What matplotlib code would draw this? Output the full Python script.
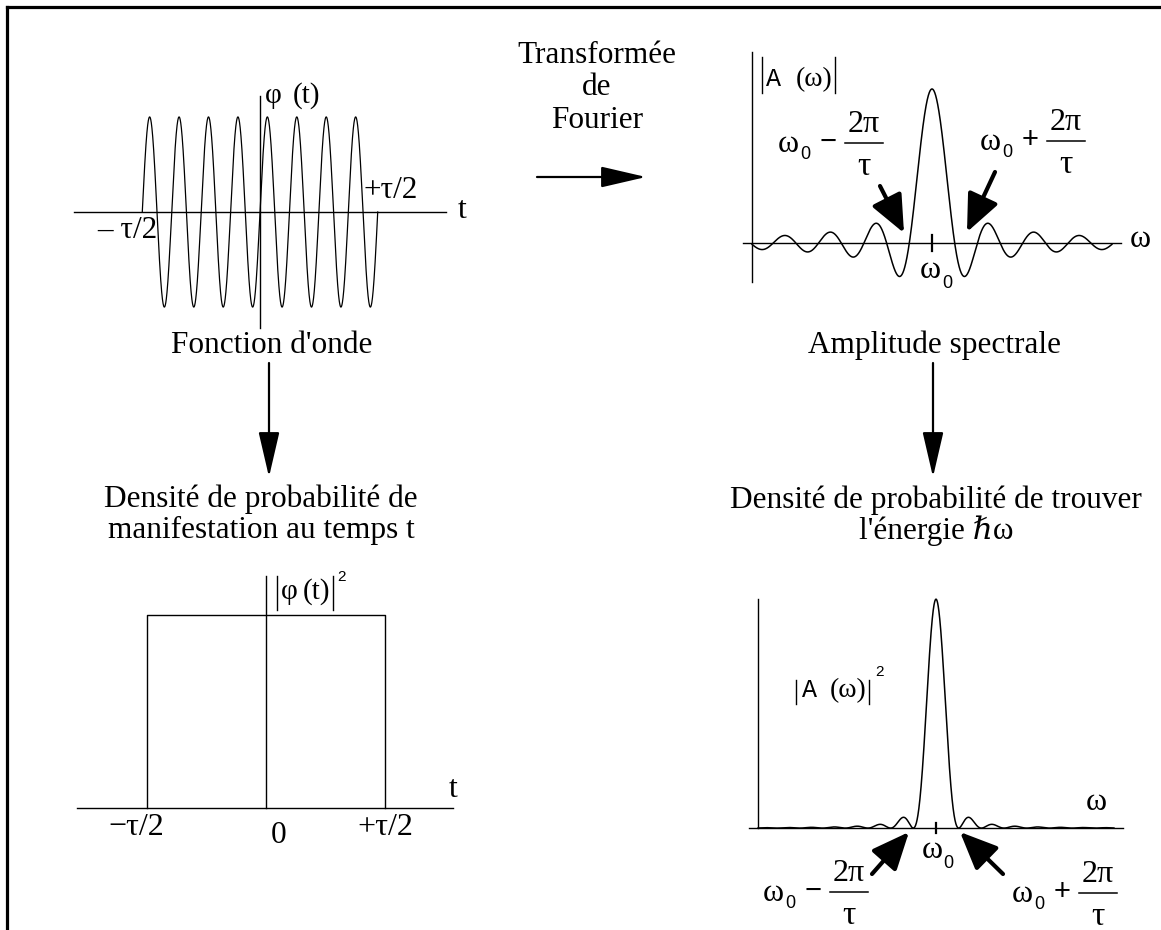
import numpy as np
import matplotlib
matplotlib.use("Agg")
import matplotlib.pyplot as plt

# Paquet d'ondes : fonction d'onde, amplitude spectrale et densités

W, H = 1161, 930
SERIF = ["Liberation Serif", "DejaVu Serif"]
SANS = ["Liberation Sans", "DejaVu Sans"]
MONO = ["Liberation Mono", "DejaVu Sans Mono"]

# --- données ---
n_osc = 8              # oscillations dans le paquet (entre -tau/2 et +tau/2)
half_tau = 1.0         # tau/2
wave_amp = 1.0
t_lim = (-1.58, 1.58)  # étendue de l'axe t
phi_lim = (-1.22, 1.22)

rect_lim_x = (-1.59, 1.57)
rect_lim_y = (0.0, 1.2)
rect_height = 1.0

u_curve = 7.93         # (w - w0) en unités de 2pi/tau : bout de la courbe
u_axis = 8.33
amp_lim = (-0.253, 1.24)
u_curve2 = 7.84
u_axis2 = 8.24
dens_lim = (-0.052, 1.04)

fig = plt.figure(figsize=(W / 100, H / 100), dpi=100)
ov = fig.add_axes([0, 0, 1, 1])
ov.set_xlim(0, W)
ov.set_ylim(H, 0)
ov.axis("off")

BIG = 22.5


def panel(left, top, right, bottom, xlim, ylim):
    a = fig.add_axes([left / W, 1 - bottom / H, (right - left) / W, (bottom - top) / H])
    a.set_xlim(*xlim)
    a.set_ylim(*ylim)
    a.axis("off")
    return a


def txt(x, y, s, size=BIG, fam=SERIF, ha="center", va="baseline"):
    ov.text(x, y, s, fontsize=size, family=fam, ha=ha, va=va, color="k")


def bars(x1, x2, y1, y2):
    ov.plot([x1, x1], [y1, y2], color="k", lw=1.0)
    ov.plot([x2, x2], [y1, y2], color="k", lw=1.0)


def freq_label(x, y, sign):
    # w0 -/+ 2pi/tau
    txt(x, y + 9, "ω", 23)
    txt(x + 17, y + 16, "0", 13, SANS)
    txt(x + 40, y + 7, sign, 21, SANS)
    ov.plot([x + 57, x + 95], [y, y], color="k", lw=1.1)
    txt(x + 76, y - 11, "2π", 23)
    txt(x + 76, y + 32, "τ", 24)


def pointer(tail, tip):
    ov.annotate("", xy=tip, xytext=tail,
                arrowprops=dict(arrowstyle="-|>,head_length=2.3,head_width=1.0",
                                lw=3, color="k", shrinkA=0, shrinkB=0, mutation_scale=10))


def flow(tail, tip):
    ov.annotate("", xy=tip, xytext=tail,
                arrowprops=dict(arrowstyle="-|>,head_length=2.8,head_width=0.65",
                                lw=1.6, color="k", shrinkA=0, shrinkB=0, mutation_scale=10))


def line(ax, x, y, lw=1.0):
    ax.plot(x, y, color="k", lw=lw, clip_on=False)


# cadre
ov.plot([7, 7], [H, 7], color="k", lw=2.3, solid_capstyle="projecting")
ov.plot([7, W], [7, 7], color="k", lw=2.3, solid_capstyle="projecting")

# ---- fonction d'onde ----
ax1 = panel(74, 96, 446, 328, t_lim, phi_lim)
t = np.linspace(-half_tau, half_tau, 3000)
phi = wave_amp * np.sin(2 * np.pi * n_osc * (t + half_tau) / (2 * half_tau))
line(ax1, t_lim, [0, 0])
line(ax1, [0, 0], phi_lim)
line(ax1, t, phi, 0.9)

txt(273, 103, "φ", 21)
txt(306, 103, "(t)", 21)
txt(462, 218, "t", 23)
txt(391, 198, "+τ/2", BIG)
txt(127, 238, "– τ/2", BIG)
txt(272, 353, "Fonction d'onde", BIG)

# ---- transformée de Fourier ----
txt(597, 63, "Transformée", BIG)
txt(597, 95, "de", BIG)
txt(597, 128, "Fourier", BIG)
flow((537, 177), (646, 177))

# ---- amplitude spectrale ----
ax2 = panel(743, 52, 1121, 282, (-u_axis, u_axis), amp_lim)
u = np.linspace(-u_curve, u_curve, 3000)
amp = np.sinc(u)
line(ax2, [-u_axis, u_axis], [0, 0])
line(ax2, [-u_curve, -u_curve], amp_lim)
line(ax2, [0, 0], [-0.052, 0.052], 1.6)
line(ax2, u, amp, 1.1)

bars(762, 835, 57, 93)
txt(774, 86, "A", 18, MONO)
txt(814, 86, "(ω)", 20)
txt(1140, 247, "ω", 23)
txt(930, 278, "ω", 23)
txt(947, 288, "0", 13, SANS)
freq_label(788, 143, "−")
freq_label(990, 141, "+")
pointer((880, 186), (904, 233))
pointer((995, 172), (967, 232))
txt(935, 353, "Amplitude spectrale", BIG)

# ---- flèches vers les densités ----
flow((269, 363), (269, 477))
flow((933, 363), (933, 477))
txt(261, 507, "Densité de probabilité de", BIG)
txt(261, 538, "manifestation au temps t", BIG)
txt(936, 508, "Densité de probabilité de trouver", BIG)
txt(936, 539, "l'énergie ℏω", BIG)

# ---- densité temporelle ----
ax3 = panel(77, 576, 453, 808, rect_lim_x, rect_lim_y)
line(ax3, rect_lim_x, [0, 0])
line(ax3, [0, 0], rect_lim_y)
line(ax3, [-half_tau, -half_tau, half_tau, half_tau], [0, rect_height, rect_height, 0])

bars(277, 333, 576, 610)
txt(289, 599, "φ", 21)
txt(317, 599, "(t)", 21)
txt(342, 581, "2", 11, SANS)
txt(453, 797, "t", 23)
txt(136, 835, "−τ/2", 23)
txt(279, 843, "0", BIG)
txt(385, 835, "+τ/2", 23)

# ---- densité spectrale ----
ax4 = panel(749, 590, 1123, 840, (-u_axis2, u_axis2), dens_lim)
u2 = np.linspace(-u_curve2, u_curve2, 3000)
dens = np.sinc(u2) ** 2
line(ax4, [-u_axis2, u_axis2], [0, 0])
line(ax4, [-u_curve2, -u_curve2], [0, 1.0])
line(ax4, [0, 0], [-0.022, 0.022], 1.6)
line(ax4, u2, dens, 1.1)

bars(796, 869, 680, 704)
txt(809, 697, "A", 18, MONO)
txt(848, 697, "(ω)", 20)
txt(880, 676, "2", 11, SANS)
txt(1096, 810, "ω", 23)
txt(932, 858, "ω", 23)
txt(948, 868, "0", 13, SANS)
freq_label(773, 892, "−")
freq_label(1022, 893, "+")
pointer((872, 874), (909, 832))
pointer((1003, 874), (960, 832))

fig.savefig("out.png", dpi=100)
